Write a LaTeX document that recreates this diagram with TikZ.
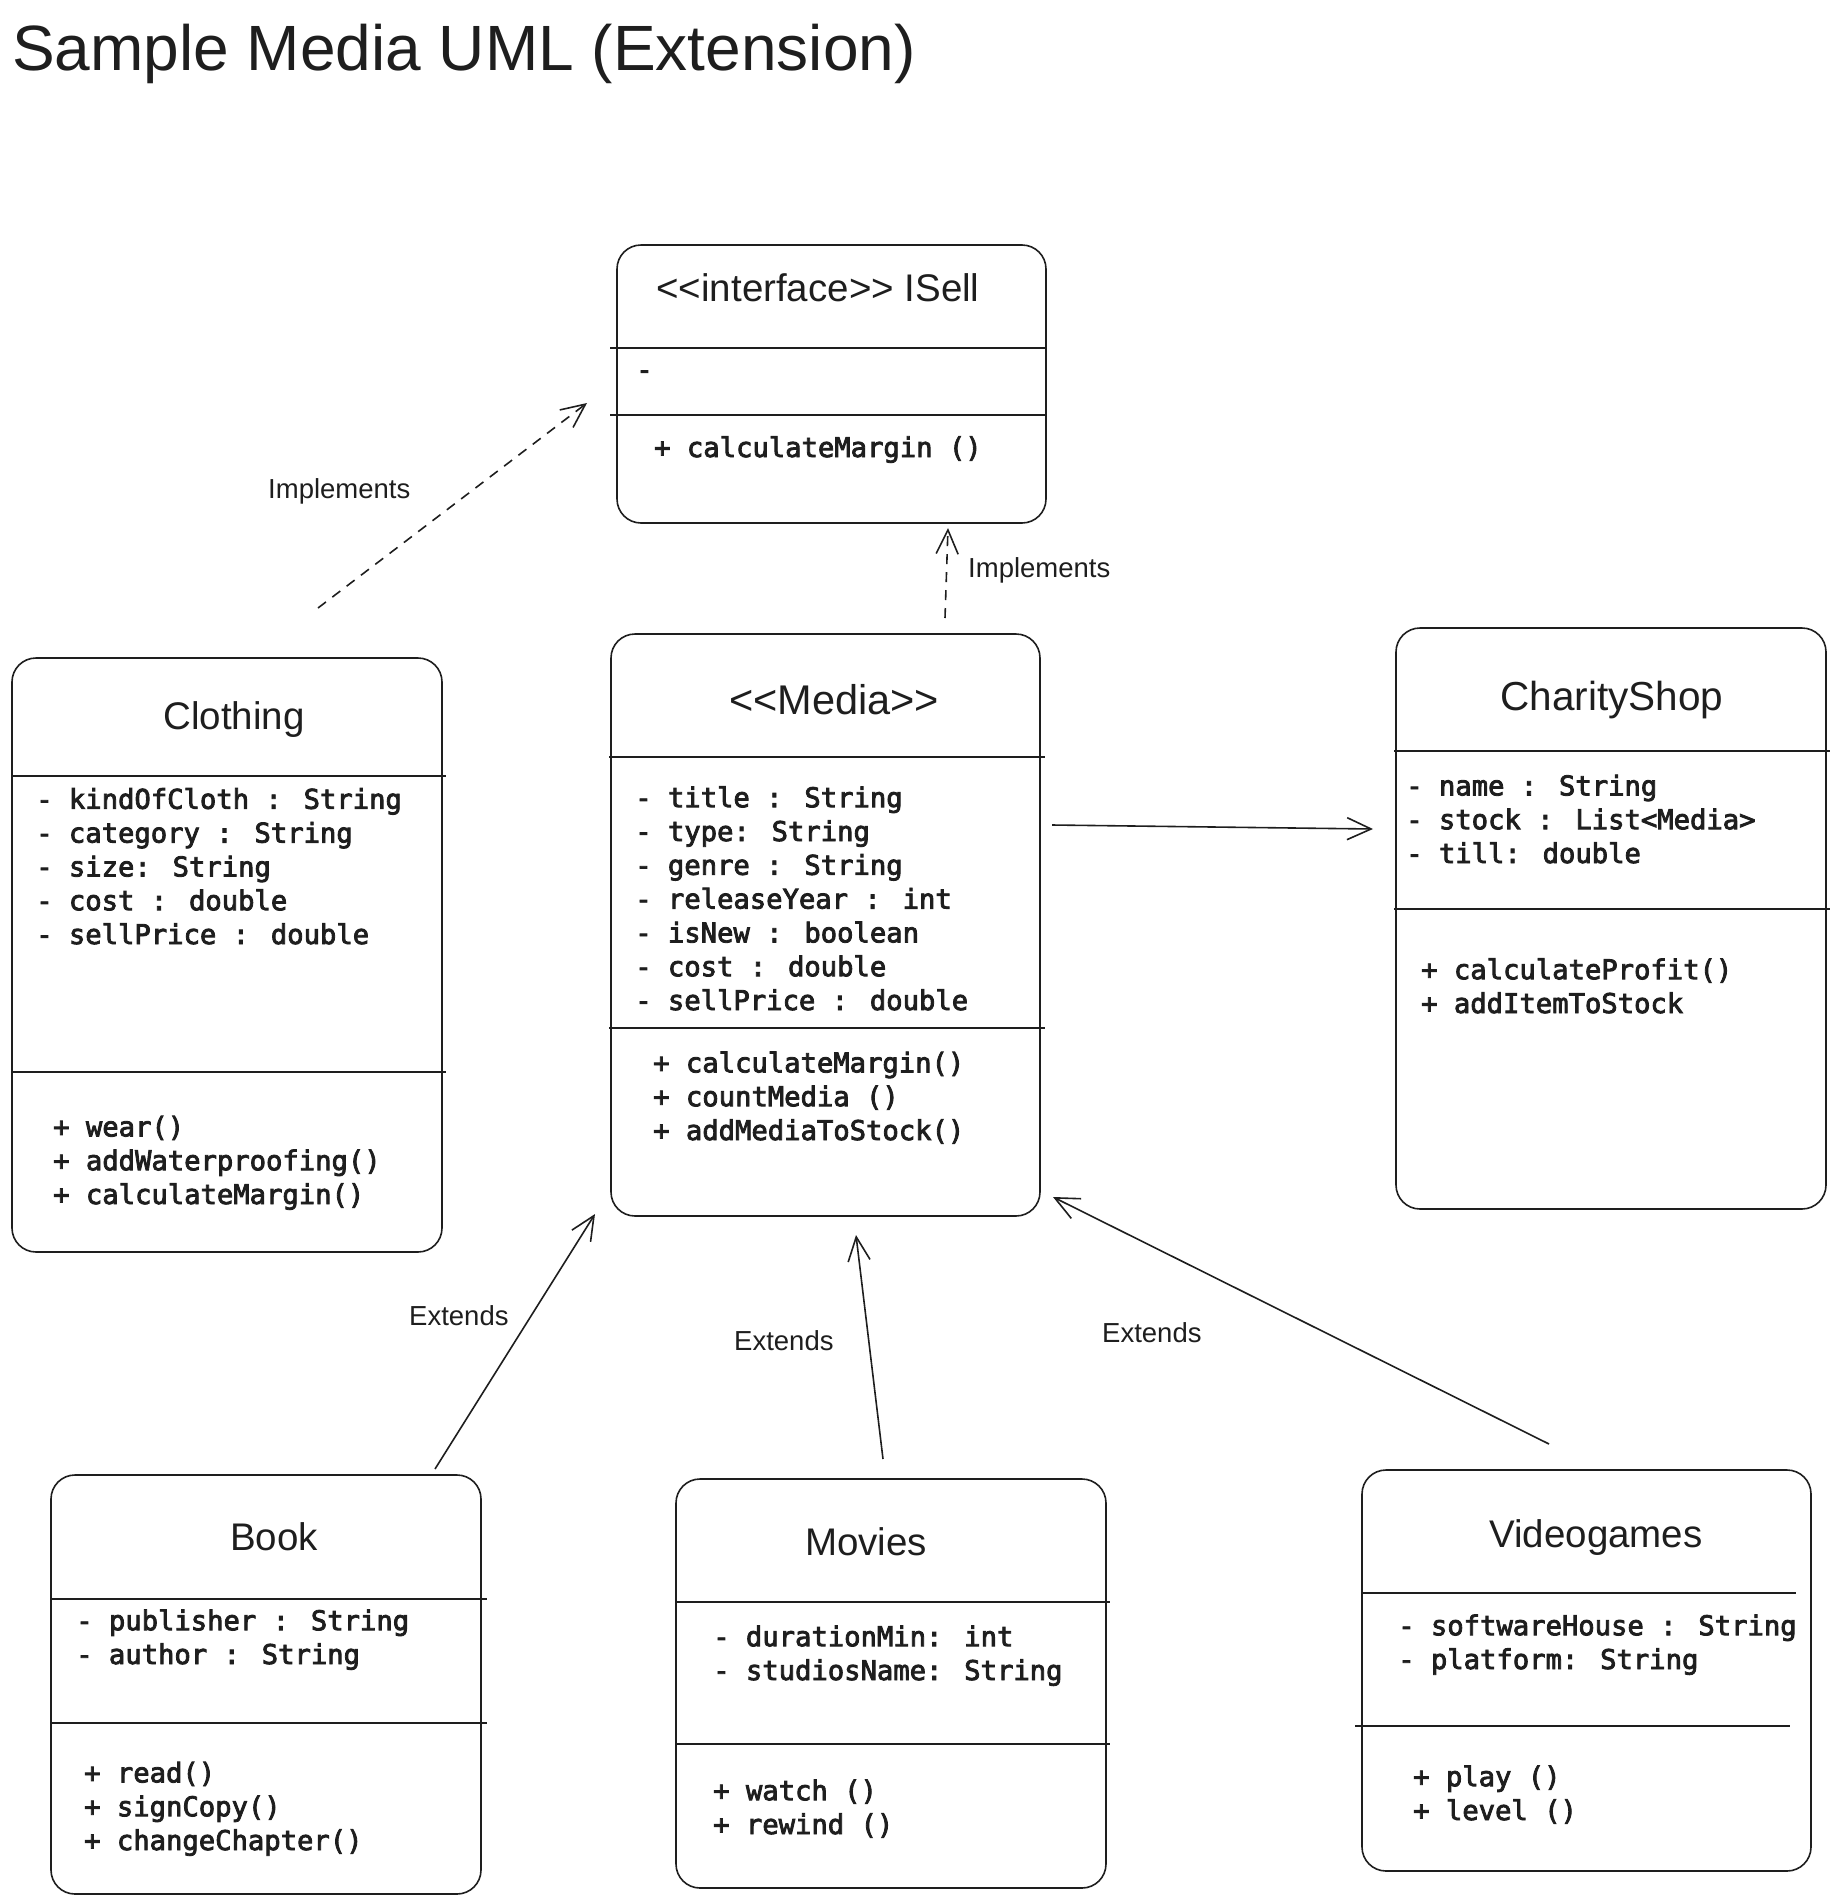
\documentclass[tikz,border=0pt]{standalone}
\usepackage{fontspec}
\setmainfont{Liberation Sans}
\newfontfamily\umlmono{DejaVu Sans Mono}[FakeBold=3]
\usetikzlibrary{arrows.meta}
\definecolor{ink}{HTML}{1E1E1E}

\tikzset{
  umlbox/.style={draw=ink, line width=1.6pt, rounded corners=24pt, inner sep=0pt},
  classname/.style={font=\fontsize{38.5}{46}\selectfont, text=ink, inner sep=0pt, anchor=base},
  members/.style={font=\umlmono\fontsize{27.2}{33.8}\selectfont, text=ink, align=left, inner sep=0pt, anchor=base west},
  divider/.style={draw=ink, line width=1.6pt},
  relname/.style={font=\fontsize{27.5}{33}\selectfont, text=ink, inner sep=0pt, anchor=base west},
  extends/.style={draw=ink, line width=1.6pt, -{Straight Barb[length=24pt,width=22pt]}},
  implements/.style={extends, dash pattern=on 10pt off 8pt}
}

\begin{document}
\begin{tikzpicture}[x=1pt,y=-1pt]
  \useasboundingbox (0,0) rectangle (1839,1903);
  \node[font=\fontsize{64}{70}\selectfont, text=ink, inner sep=0pt, anchor=base west] (heading) at (12,70) {Sample Media UML (Extension)};

  % interface (member nodes sit on the baseline of their last line)
  \node[umlbox, minimum width=429pt, minimum height=278pt] (isell) at (831.5,384) {};
  \node[classname] (isell-name) at (818,301) {<\kern0pt<interface>\kern0pt> ISell};
  \draw[divider] (610,348) -- (1046,348);
  \draw[divider] (610,415) -- (1046,415);
  \node[members] (isell-attr) at (636,379) {-};
  \node[members] (isell-ops) at (654,457) {+ calculateMargin ()};

  % clothing
  \node[umlbox, minimum width=430pt, minimum height=594pt] (clothing) at (227,955) {};
  \node[classname] (clothing-name) at (234,729) {Clothing};
  \draw[divider] (11,776) -- (446,776);
  \draw[divider] (11,1072) -- (446,1072);
  \node[members] (clothing-attr) at (36,944) {- kindOfCloth : String\\- category : String\\- size: String\\- cost : double\\- sellPrice : double};
  \node[members] (clothing-ops) at (53,1204) {+ wear()\\+ addWaterproofing()\\+ calculateMargin()};

  % media
  \node[umlbox, minimum width=429pt, minimum height=582pt] (media) at (825.5,925) {};
  \node[classname, font=\fontsize{41.5}{48}\selectfont] (media-name) at (834,714) {<\kern0pt<Media>\kern0pt>};
  \draw[divider] (609,757) -- (1045,757);
  \draw[divider] (609,1028) -- (1045,1028);
  \node[members] (media-attr) at (635,1010) {- title : String\\- type: String\\- genre : String\\- releaseYear : int\\- isNew : boolean\\- cost : double\\- sellPrice : double};
  \node[members] (media-ops) at (653,1140) {+ calculateMargin()\\+ countMedia ()\\+ addMediaToStock()};

  % charity shop
  \node[umlbox, minimum width=430pt, minimum height=581pt] (shop) at (1611,918.5) {};
  \node[classname, font=\fontsize{40.5}{48}\selectfont] (shop-name) at (1612,710) {CharityShop};
  \draw[divider] (1394,751) -- (1830,751);
  \draw[divider] (1394,909) -- (1830,909);
  \node[members] (shop-attr) at (1406,863) {- name : String\\- stock : List<Media>\\- till: double};
  \node[members] (shop-ops) at (1421,1013) {+ calculateProfit()\\+ addItemToStock};

  % book
  \node[umlbox, minimum width=430pt, minimum height=419pt] (book) at (266,1684.5) {};
  \node[classname] (book-name) at (274,1550) {Book};
  \draw[divider] (51,1599) -- (487,1599);
  \draw[divider] (51,1723) -- (487,1723);
  \node[members] (book-attr) at (76,1664) {- publisher : String\\- author : String};
  \node[members] (book-ops) at (84,1850) {+ read()\\+ signCopy()\\+ changeChapter()};

  % movies
  \node[umlbox, minimum width=430pt, minimum height=409pt] (movies) at (891,1683.5) {};
  \node[classname] (movies-name) at (866,1555) {Movies};
  \draw[divider] (676,1602) -- (1110,1602);
  \draw[divider] (676,1744) -- (1110,1744);
  \node[members] (movies-attr) at (713,1680) {- durationMin: int\\- studiosName: String};
  \node[members] (movies-ops) at (713,1834) {+ watch ()\\+ rewind ()};

  % videogames
  \node[umlbox, minimum width=449pt, minimum height=401pt] (games) at (1586.5,1670.5) {};
  \node[classname] (games-name) at (1596,1547) {Videogames};
  \draw[divider] (1361,1593) -- (1796,1593);
  \draw[divider] (1355,1726) -- (1790,1726);
  \node[members] (games-attr) at (1398,1669) {- softwareHouse : String\\- platform: String};
  \node[members] (games-ops) at (1413,1820) {+ play ()\\+ level ()};

  % relations
  \coordinate (clothing-up) at (318,608);
  \coordinate (isell-in1) at (587,403);
  \coordinate (media-up) at (945,618);
  \coordinate (isell-in2) at (948,528);
  \coordinate (media-out) at (1052,825);
  \coordinate (shop-in) at (1373,829);
  \coordinate (book-up) at (435,1469);
  \coordinate (media-in1) at (595,1214);
  \coordinate (movies-up) at (883,1459);
  \coordinate (media-in2) at (856,1235);
  \coordinate (games-up) at (1549,1444);
  \coordinate (media-in3) at (1053,1197);

  \draw[implements] (clothing-up) -- (isell-in1);
  \draw[implements] (media-up) -- (isell-in2);
  \draw[extends] (media-out) -- (shop-in);
  \draw[extends] (book-up) -- (media-in1);
  \draw[extends] (movies-up) -- (media-in2);
  \draw[extends] (games-up) -- (media-in3);

  \node[relname] (impl-1) at (268,498) {Implements};
  \node[relname] (impl-2) at (968,577) {Implements};
  \node[relname] (ext-1) at (409,1325) {Extends};
  \node[relname] (ext-2) at (734,1350) {Extends};
  \node[relname] (ext-3) at (1102,1342) {Extends};
\end{tikzpicture}
\end{document}
